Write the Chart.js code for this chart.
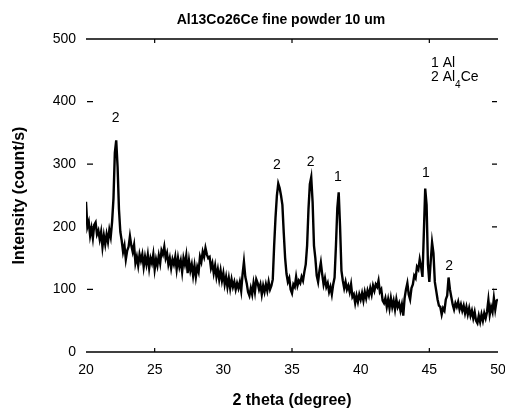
<!DOCTYPE html>
<html>
<head>
<meta charset="utf-8">
<script src="https://cdn.jsdelivr.net/npm/chart.js@4/dist/chart.umd.min.js"></script>
<style>
html,body{margin:0;padding:0;background:#fff;}
#wrap{width:505px;height:410px;}
</style>
</head>
<body>
<div id="wrap"><canvas id="c" width="505" height="410"></canvas></div>
<script>
const chartTitle = "Al13Co26Ce fine powder 10 um";
const xTitle = "2 theta (degree)";
const yTitle = "Intensity (count/s)";
const angleStart = 20.0;
const angleStep = 0.1;
// intensity read every 0.1 degree from 20.0 to 50.0
const intensity = [
  240, 200, 208, 186, 198, 182, 203, 207, 188, 194,
  180, 192, 168, 186, 172, 188, 176, 195, 184, 208,
  245, 318, 338, 296, 228, 192, 178, 160, 170, 148,
  162, 168, 185, 170, 160, 171, 142, 152, 138, 156,
  146, 156, 136, 152, 140, 155, 134, 150, 142, 156,
  132, 148, 138, 154, 142, 162, 156, 168, 150, 158,
  140, 150, 134, 148, 140, 152, 132, 150, 136, 146,
  128, 150, 140, 154, 126, 146, 130, 140, 122, 138,
  120, 136, 128, 152, 144, 160, 152, 166, 156, 150,
  152, 134, 142, 126, 138, 120, 132, 116, 130, 114,
  126, 108, 120, 104, 118, 102, 116, 104, 112, 100,
  110, 102, 112, 98, 124, 144, 120, 110, 96, 90,
  102, 92, 110, 96, 116, 110, 100, 108, 92, 106,
  96, 108, 98, 112, 100, 106, 116, 170, 215, 250,
  269, 262, 250, 235, 190, 150, 125, 112, 118, 100,
  94, 108, 104, 120, 106, 114, 110, 120, 114, 128,
  140, 170, 228, 268, 279, 240, 170, 150, 122, 112,
  130, 143, 124, 108, 118, 104, 110, 96, 104, 92,
  108, 119, 170, 230, 255, 200, 130, 114, 102, 112,
  100, 106, 96, 108, 88, 92, 78, 90, 80, 92,
  84, 94, 82, 96, 86, 98, 90, 102, 92, 106,
  98, 108, 104, 114, 96, 100, 82, 78, 86, 72,
  84, 70, 86, 72, 82, 68, 84, 72, 78, 66,
  76, 58, 86, 100, 110, 92, 84, 102, 108, 122,
  118, 136, 132, 148, 136, 120, 190, 261, 235, 140,
  112, 145, 175, 158, 112, 98, 84, 74, 72, 60,
  70, 66, 84, 90, 119, 100, 88, 76, 68, 78,
  72, 80, 68, 76, 66, 74, 62, 72, 60, 70,
  58, 66, 54, 64, 50, 46, 58, 48, 60, 50,
  62, 54, 64, 83, 60, 72, 64, 86, 68, 82,
  84
];
const xTicks = [20, 25, 30, 35, 40, 45, 50];
const yTicks = [0, 100, 200, 300, 400, 500];
// peak labels: phase number, angle, intensity position of label
const peakLabels = ["2", "2", "2", "1", "1", "2"];
const peakAngles = [22.15, 33.9, 36.35, 38.35, 44.75, 46.45];
const peakLabelY = [374, 298, 303, 280, 285, 137];
const legendLines = [["1 Al", ""], ["2 Al", "4", "Ce"]];

const points = intensity.map((v, i) => ({x: +(angleStart + i * angleStep).toFixed(1), y: v}));
const FONT = "'Liberation Sans', Arial, sans-serif";

const decor = {
  id: 'decor',
  afterDatasetsDraw(chart) {
    const ctx = chart.ctx;
    const xs = chart.scales.x, ys = chart.scales.y;
    const L = chart.chartArea.left, R = chart.chartArea.right;
    ctx.save();
    ctx.strokeStyle = '#000';
    ctx.lineWidth = 1.5;
    const yTop = ys.getPixelForValue(500), yBot = ys.getPixelForValue(0);
    ctx.beginPath();
    ctx.moveTo(L, yTop); ctx.lineTo(R, yTop);
    ctx.moveTo(L, yBot); ctx.lineTo(R, yBot);
    ctx.stroke();
    ctx.lineWidth = 1.2;
    ctx.beginPath();
    [25, 35, 45].forEach(t => {
      const px = xs.getPixelForValue(t);
      ctx.moveTo(px, yTop); ctx.lineTo(px, yTop + 4);
      ctx.moveTo(px, yBot); ctx.lineTo(px, yBot - 4);
    });
    [100, 200, 300, 400].forEach(t => {
      const py = ys.getPixelForValue(t);
      ctx.moveTo(L + 1, py); ctx.lineTo(L + 7, py);
      ctx.moveTo(R - 6, py); ctx.lineTo(R - 1, py);
    });
    ctx.stroke();
    // title
    ctx.fillStyle = '#000';
    ctx.font = "bold 14px " + FONT;
    ctx.textAlign = 'center';
    ctx.textBaseline = 'middle';
    ctx.fillText(chartTitle, 281, 20);
    // peak labels
    ctx.font = "14px " + FONT;
    peakLabels.forEach((t, i) => {
      ctx.fillText(t, xs.getPixelForValue(peakAngles[i]), ys.getPixelForValue(peakLabelY[i]));
    });
    // legend
    ctx.textAlign = 'left';
    ctx.font = "14px " + FONT;
    ctx.fillText(legendLines[0][0], 431, 63);
    let x = 431;
    ctx.fillText(legendLines[1][0], x, 77);
    x += ctx.measureText(legendLines[1][0]).width;
    ctx.font = "10px " + FONT;
    ctx.fillText(legendLines[1][1], x, 85);
    x += ctx.measureText(legendLines[1][1]).width;
    ctx.font = "14px " + FONT;
    ctx.fillText(legendLines[1][2], x, 77);
    ctx.restore();
  }
};

new Chart(document.getElementById('c'), {
  type: 'line',
  data: {
    datasets: [{
      data: points,
      borderColor: '#000',
      borderWidth: 2.4,
      pointRadius: 0,
      tension: 0,
      fill: false
    }]
  },
  options: {
    responsive: false,
    animation: false,
    devicePixelRatio: 1,
    layout: {padding: {top: 39, right: 7, left: 0, bottom: 0}},
    plugins: {legend: {display: false}, tooltip: {enabled: false}, title: {display: false}},
    scales: {
      x: {
        type: 'linear', min: 20, max: 50,
        afterBuildTicks: s => { s.ticks = xTicks.map(v => ({value: v})); },
        afterFit: s => { s.height = 58; s.paddingLeft = 0; s.paddingRight = 0; },
        grid: {display: false, drawTicks: false},
        border: {display: false},
        ticks: {color: '#000', font: {family: FONT, size: 14}, padding: 10, maxRotation: 0, autoSkip: false},
        title: {display: true, text: xTitle, color: '#000', font: {family: FONT, size: 16, weight: 'bold'}, padding: {top: 0, bottom: 0}}
      },
      y: {
        min: 0, max: 500,
        afterBuildTicks: s => { s.ticks = yTicks.map(v => ({value: v})); },
        afterFit: s => { s.width = 86; s.paddingTop = 0; s.paddingBottom = 0; },
        grid: {display: false, drawTicks: false},
        border: {display: false},
        ticks: {color: '#000', font: {family: FONT, size: 14}, padding: 10},
        title: {display: true, text: yTitle, color: '#000', font: {family: FONT, size: 16, weight: 'bold'}, padding: {top: 10, bottom: 0}}
      }
    }
  },
  plugins: [decor]
});
</script>
</body>
</html>
